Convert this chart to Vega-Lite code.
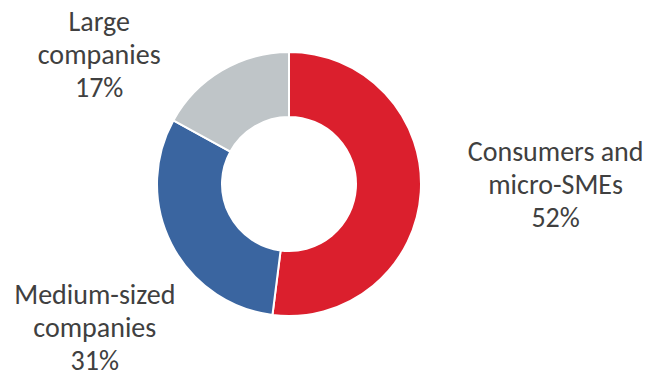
{
  "$schema": "https://vega.github.io/schema/vega-lite/v6.json",
  "width": 578,
  "height": 368,
  "autosize": "none",
  "padding": {"left": 0, "top": 0, "right": 70, "bottom": 3},
  "background": "white",
  "view": {"stroke": null},
  "data": {
    "values": [
      {"segment": "Consumers and micro-SMEs", "label": ["Consumers and", "micro-SMEs", "52%"], "share": 52, "rank": 1},
      {"segment": "Medium-sized companies", "label": ["Medium-sized", "companies", "31%"], "share": 31, "rank": 2},
      {"segment": "Large companies", "label": ["Large", "companies", "17%"], "share": 17, "rank": 3}
    ]
  },
  "layer": [
    {
      "mark": {"type": "arc", "outerRadius": 132, "innerRadius": 67, "stroke": "white", "strokeWidth": 2},
      "encoding": {
        "theta": {"field": "share", "type": "quantitative", "stack": true, "scale": {"domain": [0, 100]}},
        "order": {"field": "rank", "type": "quantitative"},
        "color": {
          "field": "segment",
          "type": "nominal",
          "legend": null,
          "scale": {
            "domain": ["Consumers and micro-SMEs", "Medium-sized companies", "Large companies"],
            "range": ["#DB1F2D", "#3A65A0", "#BFC5C8"]
          }
        }
      }
    },
    {
      "transform": [
        {"window": [{"op": "sum", "field": "share", "as": "cum"}], "sort": [{"field": "rank"}]},
        {"calculate": "datum.cum - datum.share / 2", "as": "mid"},
        {"filter": "datum.rank == 1"}
      ],
      "mark": {"type": "text", "radius": 200, "dx": 67, "dy": -44, "font": "Carlito, Lato", "fontSize": 28, "lineHeight": 33, "fill": "#404040", "align": "center", "baseline": "middle"},
      "encoding": {
        "theta": {"field": "mid", "type": "quantitative", "scale": {"domain": [0, 100]}},
        "text": {"field": "label"}
      }
    },
    {
      "transform": [
        {"window": [{"op": "sum", "field": "share", "as": "cum"}], "sort": [{"field": "rank"}]},
        {"calculate": "datum.cum - datum.share / 2", "as": "mid"},
        {"filter": "datum.rank == 2"}
      ],
      "mark": {"type": "text", "radius": 200, "dx": -16, "dy": 21, "font": "Carlito, Lato", "fontSize": 28, "lineHeight": 33, "fill": "#404040", "align": "center", "baseline": "middle"},
      "encoding": {
        "theta": {"field": "mid", "type": "quantitative", "scale": {"domain": [0, 100]}},
        "text": {"field": "label"}
      }
    },
    {
      "transform": [
        {"window": [{"op": "sum", "field": "share", "as": "cum"}], "sort": [{"field": "rank"}]},
        {"calculate": "datum.cum - datum.share / 2", "as": "mid"},
        {"filter": "datum.rank == 3"}
      ],
      "mark": {"type": "text", "radius": 200, "dx": -88, "dy": 11, "font": "Carlito, Lato", "fontSize": 28, "lineHeight": 33, "fill": "#404040", "align": "center", "baseline": "middle"},
      "encoding": {
        "theta": {"field": "mid", "type": "quantitative", "scale": {"domain": [0, 100]}},
        "text": {"field": "label"}
      }
    }
  ]
}
